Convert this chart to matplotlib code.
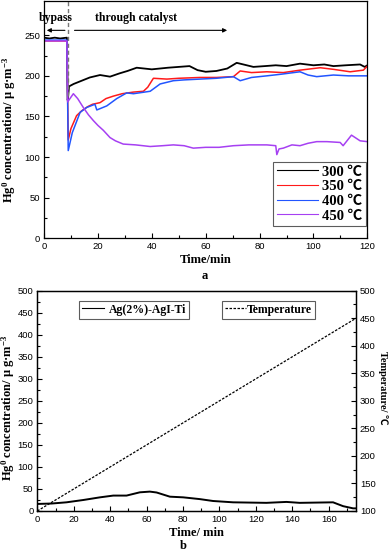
import matplotlib.pyplot as plt
from matplotlib.ticker import MultipleLocator

# ---- panel a data ----
t300 = [0, 2, 4, 6, 8.5, 8.8, 9.3, 11, 14, 17, 20.8, 24.5, 28, 31, 34.4, 40, 46, 50, 54, 57, 60,
        64, 68, 71.5, 74, 77.7, 82, 86, 90, 95, 100, 104, 107.4, 112, 117.3, 119, 120]
c300 = [247, 246, 247, 246, 247, 170, 187, 190, 194, 198, 201, 199, 203, 206, 210, 208, 210, 211, 212,
        207, 205, 206, 209, 216, 214, 211, 212, 213, 212, 215, 213, 214, 212, 213, 214, 211, 213]

t350 = [0, 4, 8.5, 9.0, 10, 12.1, 14, 16.2, 18, 20.8, 23, 25.7, 29, 33.2, 36.9, 38.5, 40.6, 45.6, 50,
        57.9, 64, 70.3, 72.8, 77, 82.7, 88.8, 95, 102.5, 107.4, 113.6, 118.5, 120]
c350 = [243, 243, 243, 121, 135, 151, 157, 162, 165, 167, 172, 175, 178, 180, 181, 186, 197, 196, 197,
        198, 198, 199, 206, 204, 205, 204, 207, 210, 208, 205, 207, 212]

t400 = [0, 4, 8.5, 9.0, 10.5, 13.4, 15.8, 18.9, 19.6, 23.3, 27, 30.7, 33.2, 39.4, 43.1, 48, 52,
        57.9, 64, 70.3, 72.8, 77, 82.7, 88, 95, 98, 101.2, 107.4, 113, 120]
c400 = [244, 244, 244, 108, 130, 155, 161, 165, 158, 163, 172, 179, 178, 181, 190, 194, 195,
        196, 197, 199, 194, 198, 200, 202, 205, 201, 199, 201, 200, 200]

t450 = [0, 4, 8.5, 8.8, 10.9, 12.5, 14.6, 16.5, 18.3, 20, 22, 24.5, 26.5, 29.4, 34, 39.4, 44, 48,
        52, 55.4, 60, 65, 70.3, 76, 82.7, 86.0, 86.4, 87.2, 88.8, 92, 95, 98, 101.2, 105, 109.9,
        111, 114.1, 117.3, 120]
c450 = [243, 243, 243, 168, 178, 172, 161, 152, 145, 139, 133, 124, 120, 116, 115, 113, 114, 115,
        114, 111, 112, 112, 114, 115, 115, 114, 103, 110, 111, 115, 114, 117, 119, 119, 118,
        114, 127, 120, 119]

# ---- panel b data ----
tb = [0, 8, 16, 25.3, 34.4, 41.7, 49, 56.3, 61.8, 65.5, 72.8, 80.1, 89.2, 96.5, 107.5, 125.8,
      136.8, 144.1, 162.4, 167.9, 173.4, 175]
cb = [16, 17, 19.7, 25, 31, 35, 35, 42.4, 44, 42, 32.5, 31, 27, 22.7, 19.7, 18.5, 20.6, 18.5,
      19.7, 11, 6, 6]
t_temp = [0, 175]
temp = [100, 450]

plt.rcParams['mathtext.fontset'] = 'custom'
plt.rcParams['mathtext.rm'] = 'Liberation Serif:bold'
plt.rcParams['mathtext.bf'] = 'Liberation Serif:bold'
plt.rcParams['mathtext.it'] = 'Liberation Serif:bold'

serif = ['Liberation Serif', 'Noto Sans CJK SC']
tickfont = 'Liberation Sans'
ylab = r'Hg$^{0}$ concentration/ μ g·m$^{-3}$'

fig = plt.figure(figsize=(3.92, 5.51), dpi=100)

def style_ax(ax):
    ax.tick_params(which='both', direction='in', labelsize=6.8, width=0.8, pad=2.8)
    ax.tick_params(which='major', length=3.5)
    ax.tick_params(which='minor', length=2)
    for lab in ax.get_xticklabels() + ax.get_yticklabels():
        lab.set_fontfamily(tickfont)
    for s in ax.spines.values():
        s.set_linewidth(0.9)

# ---------------- panel a ----------------
ax1 = fig.add_axes([0.1122, 0.5675, 0.8250, 0.4305])
ax1.plot(t300, c300, color='black', lw=1.3, label='300 ℃')
ax1.plot(t350, c350, color='#ff1a1a', lw=1.1, label='350 ℃')
ax1.plot(t400, c400, color='#2255ff', lw=1.1, label='400 ℃')
ax1.plot(t450, c450, color='#a640f2', lw=1.1, label='450 ℃')
ax1.axvline(9.0, ymin=175 / 292, ymax=1, color='#777777', ls=(0, (3, 2)), lw=1.0)
ax1.annotate('', xy=(0, 256), xytext=(8.8, 256),
             arrowprops=dict(arrowstyle='-|>', color='black', lw=0.8, mutation_scale=6))
ax1.annotate('', xy=(69, 256), xytext=(10.3, 256),
             arrowprops=dict(arrowstyle='-|>', color='black', lw=0.8, mutation_scale=6))
ax1.text(4.4, 271, 'bypass', family=serif, fontweight='bold', fontsize=8.5, ha='center', va='center')
ax1.text(34, 271, 'through catalyst', family=serif, fontweight='bold', fontsize=8.5,
         ha='center', va='center')
ax1.set_xlim(0, 120)
ax1.set_ylim(0, 292)
ax1.xaxis.set_major_locator(MultipleLocator(20))
ax1.xaxis.set_minor_locator(MultipleLocator(10))
ax1.yaxis.set_major_locator(MultipleLocator(50))
ax1.yaxis.set_minor_locator(MultipleLocator(25))
ax1.set_yticks([0, 50, 100, 150, 200, 250])
style_ax(ax1)
ax1.set_xlabel('Time/min', family=serif, fontweight='bold', fontsize=9, labelpad=2)
ax1.set_ylabel(ylab, family=serif, fontweight='bold', fontsize=9)
ax1.yaxis.set_label_coords(-0.080, 0.458)
leg = ax1.legend(loc='lower right', bbox_to_anchor=(1.0, 0.045),
                 prop=dict(family=serif, weight='bold', size=10.5),
                 frameon=True, fancybox=False, edgecolor='#333333', handlelength=2.8,
                 handletextpad=0.3, borderpad=0.25, labelspacing=0.1, borderaxespad=0.1)
leg.get_frame().set_linewidth(0.8)
for h in leg.get_lines():
    h.set_linewidth(0.8)
fig.text(205 / 392, 1 - 276 / 551, 'a', family=serif, fontweight='bold', fontsize=9,
         ha='center', va='center')

# ---------------- panel b ----------------
ax2 = fig.add_axes([0.0952, 0.0726, 0.8130, 0.3998])
ax2.plot(tb, cb, color='black', lw=1.4, label='Ag(2%)-AgI-Ti')
ax2.set_xlim(0, 175)
ax2.set_ylim(0, 500)
ax2.xaxis.set_major_locator(MultipleLocator(20))
ax2.xaxis.set_minor_locator(MultipleLocator(10))
ax2.yaxis.set_major_locator(MultipleLocator(50))
ax2.yaxis.set_minor_locator(MultipleLocator(25))
style_ax(ax2)
ax2.set_xlabel('Time/ min', family=serif, fontweight='bold', fontsize=9, labelpad=2)
ax2.set_ylabel(ylab, family=serif, fontweight='bold', fontsize=9)
ax2.yaxis.set_label_coords(-0.065, 0.468)

ax3 = ax2.twinx()
ax3.plot(t_temp, temp, color='black', lw=0.9, ls=(0, (2, 1.2)), label='Temperature')
ax3.set_ylim(100, 500)
ax3.yaxis.set_major_locator(MultipleLocator(50))
ax3.yaxis.set_minor_locator(MultipleLocator(25))
style_ax(ax3)
ax3.set_ylabel('Temperature/ ℃', family=serif, fontweight='bold', fontsize=7.5, rotation=270)
ax3.yaxis.set_label_coords(1.100, 0.558)

leg2 = ax2.legend(loc='upper left', bbox_to_anchor=(0.13, 0.955),
                  prop=dict(family=serif, weight='bold', size=8.5),
                  fancybox=False, edgecolor='#333333', handlelength=1.9, handletextpad=0.4,
                  borderpad=0.25, borderaxespad=0)
leg2.get_frame().set_linewidth(0.8)
for h in leg2.get_lines():
    h.set_linewidth(0.8)
leg3 = ax3.legend(loc='upper left', bbox_to_anchor=(0.581, 0.955),
                  prop=dict(family=serif, weight='bold', size=8.5),
                  fancybox=False, edgecolor='#333333', handlelength=1.7, handletextpad=0.1,
                  borderpad=0.25, borderaxespad=0)
leg3.get_frame().set_linewidth(0.8)
fig.text(183 / 392, 1 - 546 / 551, 'b', family=serif, fontweight='bold', fontsize=9,
         ha='center', va='center')

fig.savefig('out.png', dpi=100)
